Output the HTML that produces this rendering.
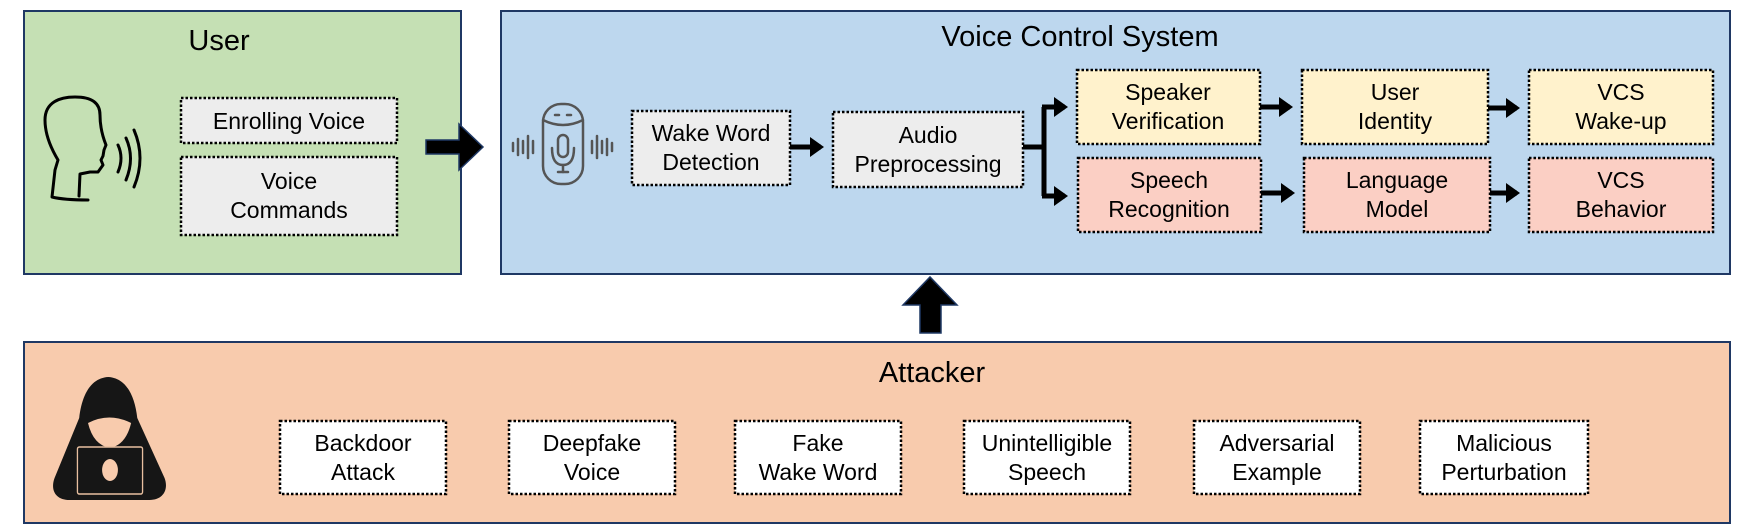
<!DOCTYPE html>
<html><head><meta charset="utf-8"><style>
html,body{margin:0;padding:0;background:#fff;}
svg{display:block;}
text{font-family:"Liberation Sans",sans-serif;fill:#000;}
</style></head><body>
<svg width="1744" height="532" viewBox="0 0 1744 532" xmlns="http://www.w3.org/2000/svg">
<defs>
<marker id="ah" markerWidth="4" markerHeight="4" refX="2.2" refY="2" orient="auto" markerUnits="strokeWidth">
<path d="M0,0 L2.8,2 L0,4 z" fill="#000"/>
</marker>
</defs>
<rect x="24" y="11" width="437" height="263" fill="#c5e0b4" stroke="#1f3864" stroke-width="2"/>
<rect x="501" y="11" width="1229" height="263" fill="#bdd7ee" stroke="#1f3864" stroke-width="2"/>
<rect x="24" y="342" width="1706" height="181" fill="#f8cbad" stroke="#1f3864" stroke-width="2"/>
<text x="219" y="50" font-size="29" text-anchor="middle">User</text>
<text x="1080" y="46" font-size="29" text-anchor="middle">Voice Control System</text>
<text x="932" y="382" font-size="29" text-anchor="middle">Attacker</text>

<g fill="none" stroke="#000" stroke-width="3" stroke-linecap="round" stroke-linejoin="round">
<path d="M88,200 C70,200 60,199 52,197 L55,170 L58,160 C52,150 45,135 45,120 C45,102 60,97 75,97 C92,97 100,103 100,115 C100,125 102,135 106,145 L104,150 L103,156 L101,160 L103,165 L98,172 L90,172 L80,174 L79,196"/>
<path d="M118,145 Q124,158 118,172"/>
<path d="M126,138 Q135,158 126,180"/>
<path d="M134,130 Q146,158 134,187"/>
</g>

<g stroke="#000" stroke-width="2.5" stroke-dasharray="2.5,2">
<rect x="181" y="98" width="216" height="45" fill="#ededed"/>
<rect x="181" y="157" width="216" height="78" fill="#ededed"/>
</g>
<g font-size="23" text-anchor="middle">
<text x="289" y="129">Enrolling Voice</text>
<text x="289" y="189">Voice</text>
<text x="289" y="218">Commands</text>
</g>

<path d="M426,140 L459,140 L459,124 L483,147 L459,170 L459,154 L426,154 z" fill="#000" stroke="#1f3864" stroke-width="1.5"/>
<path d="M920,333 L920,305 L903,305 L930,277 L957,305 L941,305 L941,333 z" fill="#000" stroke="#1f3864" stroke-width="1.5"/>

<g fill="none" stroke="#555" stroke-width="2.5" stroke-linecap="round">
<rect x="543" y="104" width="40" height="80" rx="18"/>
<path d="M543,120 Q563,130 583,120"/>
<line x1="555" y1="115" x2="559" y2="115"/><line x1="567" y1="115" x2="571" y2="115"/>
<rect x="558" y="135" width="10" height="22" rx="5"/>
<path d="M552,148 Q552,165 563,165 Q574,165 574,148"/>
<line x1="563" y1="165" x2="563" y2="172"/><line x1="558" y1="172" x2="568" y2="172"/>
<line x1="513" y1="143" x2="513" y2="151"/><line x1="518" y1="139" x2="518" y2="155"/><line x1="523" y1="141" x2="523" y2="153"/><line x1="528" y1="136" x2="528" y2="158"/><line x1="533" y1="141" x2="533" y2="153"/>
<line x1="592" y1="141" x2="592" y2="153"/><line x1="597" y1="136" x2="597" y2="158"/><line x1="602" y1="141" x2="602" y2="153"/><line x1="607" y1="139" x2="607" y2="155"/><line x1="612" y1="143" x2="612" y2="151"/>
</g>

<g stroke="#000" stroke-width="2.5" stroke-dasharray="2.5,2">
<rect x="632" y="111" width="158" height="74" fill="#ededed"/>
<rect x="833" y="112" width="190" height="75" fill="#ededed"/>
<rect x="1077" y="70" width="183" height="74" fill="#fff2cc"/>
<rect x="1302" y="70" width="186" height="74" fill="#fff2cc"/>
<rect x="1529" y="70" width="184" height="74" fill="#fff2cc"/>
<rect x="1078" y="158" width="183" height="74" fill="#fbcfc4"/>
<rect x="1304" y="158" width="186" height="74" fill="#fbcfc4"/>
<rect x="1529" y="158" width="184" height="74" fill="#fbcfc4"/>
</g>
<g font-size="23" text-anchor="middle">
<text x="711" y="141">Wake Word</text><text x="711" y="170">Detection</text>
<text x="928" y="143">Audio</text><text x="928" y="172">Preprocessing</text>
<text x="1168" y="100">Speaker</text><text x="1168" y="129">Verification</text>
<text x="1395" y="100">User</text><text x="1395" y="129">Identity</text>
<text x="1621" y="100">VCS</text><text x="1621" y="129">Wake-up</text>
<text x="1169" y="188">Speech</text><text x="1169" y="217">Recognition</text>
<text x="1397" y="188">Language</text><text x="1397" y="217">Model</text>
<text x="1621" y="188">VCS</text><text x="1621" y="217">Behavior</text>
</g>

<g stroke="#000" stroke-width="5" fill="none">
<line x1="790" y1="147" x2="821" y2="147" marker-end="url(#ah)"/>
<polyline points="1023,147 1044,147"/>
<polyline points="1044,107 1044,196"/>
<line x1="1042" y1="107" x2="1065" y2="107" marker-end="url(#ah)"/>
<line x1="1042" y1="196" x2="1065" y2="196" marker-end="url(#ah)"/>
<line x1="1260" y1="107" x2="1290" y2="107" marker-end="url(#ah)"/>
<line x1="1488" y1="108" x2="1517" y2="108" marker-end="url(#ah)"/>
<line x1="1261" y1="193" x2="1292" y2="193" marker-end="url(#ah)"/>
<line x1="1490" y1="193" x2="1517" y2="193" marker-end="url(#ah)"/>
</g>

<g transform="translate(110,0) scale(0.88,1) translate(-110,0)">
<path d="M64,500 C48,500 42,490 47,478 L75,418 C78,395 88,378 108,377 C128,378 138,395 141,418 L172,478 C177,490 170,500 155,500 z" fill="#161616"/>
<path d="M85,423 Q109,412 134,423 Q128,445 110,448 Q91,445 85,423 z" fill="#f8cbad"/>
<rect x="73" y="447" width="74" height="47" rx="2" fill="#161616" stroke="#e8bfa0" stroke-width="1.5"/>
<ellipse cx="110" cy="470" rx="9" ry="11" fill="#f8cbad"/>
</g>

<g stroke="#000" stroke-width="2.5" stroke-dasharray="2.5,2" fill="#fff">
<rect x="280" y="421" width="166" height="73"/>
<rect x="509" y="421" width="166" height="73"/>
<rect x="735" y="421" width="166" height="73"/>
<rect x="964" y="421" width="166" height="73"/>
<rect x="1194" y="421" width="166" height="73"/>
<rect x="1420" y="421" width="168" height="73"/>
</g>
<g font-size="23" text-anchor="middle">
<text x="363" y="451">Backdoor</text><text x="363" y="480">Attack</text>
<text x="592" y="451">Deepfake</text><text x="592" y="480">Voice</text>
<text x="818" y="451">Fake</text><text x="818" y="480">Wake Word</text>
<text x="1047" y="451">Unintelligible</text><text x="1047" y="480">Speech</text>
<text x="1277" y="451">Adversarial</text><text x="1277" y="480">Example</text>
<text x="1504" y="451">Malicious</text><text x="1504" y="480">Perturbation</text>
</g>
</svg>
</body></html>
